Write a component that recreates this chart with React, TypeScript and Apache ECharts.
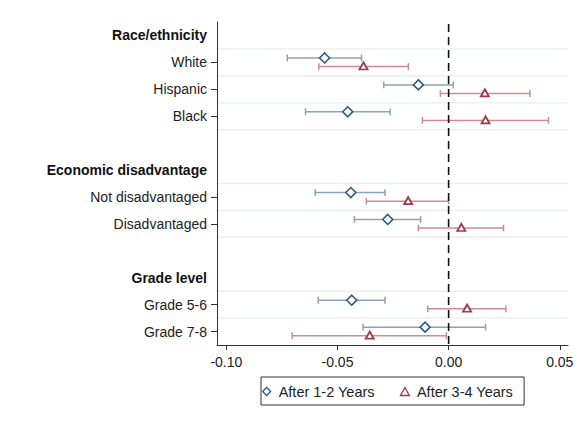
import React, { useEffect, useRef } from "react";
import * as echarts from "echarts";

const categories = [
  "Race/ethnicity",
  "White",
  "Hispanic",
  "Black",
  " ",
  "Economic disadvantage",
  "Not disadvantaged",
  "Disadvantaged",
  "  ",
  "Grade level",
  "Grade 5-6",
  "Grade 7-8",
];
const headerRows = [0, 5, 9];
const dataRows = [1, 2, 3, 6, 7, 10, 11];
const gridLineRows = [1, 2, 3, 4, 6, 7, 8, 10, 11];

const est12 = [-0.0558, -0.0136, -0.0454, -0.044, -0.0274, -0.0436, -0.0106];
const lo12 = [-0.0726, -0.0292, -0.0644, -0.06, -0.0424, -0.0587, -0.0385];
const hi12 = [-0.0392, 0.0021, -0.0263, -0.0286, -0.0126, -0.0286, 0.0166];

const est34 = [-0.0383, 0.0163, 0.0166, -0.0182, 0.0057, 0.0083, -0.0355];
const lo34 = [-0.0584, -0.0037, -0.0118, -0.037, -0.0136, -0.0094, -0.0704];
const hi34 = [-0.0181, 0.0366, 0.0449, 0.0, 0.0247, 0.0258, -0.001];

const xTicks = [-0.1, -0.05, 0, 0.05];

const FONT = "'Liberation Sans', Arial, sans-serif";
const BLUE = "#2b5b84";
const BLUE_BAR = "#8aa3ba";
const RED = "#9e3a48";
const RED_BAR = "#cc8c93";

function errorBarSeries(name: string, lo: number[], hi: number[], color: string, offset: number) {
  return {
    type: "custom",
    name,
    z: 2,
    silent: true,
    data: dataRows.map((r, i) => [lo[i], hi[i], r]),
    encode: { x: [0, 1], y: 2 },
    renderItem: (params: any, api: any) => {
      const row = api.value(2);
      const p1 = api.coord([api.value(0), row]);
      const p2 = api.coord([api.value(1), row]);
      const y = p1[1] + offset;
      const cap = 3.4;
      const style = { stroke: color, lineWidth: 1.5 };
      return {
        type: "group",
        children: [
          { type: "line", shape: { x1: p1[0], y1: y, x2: p2[0], y2: y }, style },
          { type: "line", shape: { x1: p1[0], y1: y - cap, x2: p1[0], y2: y + cap }, style },
          { type: "line", shape: { x1: p2[0], y1: y - cap, x2: p2[0], y2: y + cap }, style },
        ],
      };
    },
  };
}

export default function App() {
  const ref = useRef<HTMLDivElement>(null);
  useEffect(() => {
    if (!ref.current) return;
    const chart = echarts.init(ref.current, undefined, { renderer: "svg" });
    const option: any = {
      animation: false,
      backgroundColor: "#ffffff",
      textStyle: { fontFamily: FONT },
      grid: { left: 217, right: 15, top: 22, bottom: 77, containLabel: false },
      legend: {
        data: [
          { name: "After 1-2 Years", icon: "path://M0,-1L1,0L0,1L-1,0Z", itemStyle: { borderWidth: 1.3 } },
          { name: "After 3-4 Years", icon: "path://M0,-0.9L1,0.9L-1,0.9Z", itemStyle: { borderWidth: 1.3 } },
        ],
        symbolKeepAspect: true,
        left: 261,
        top: 377,
        orient: "horizontal",
        borderColor: "#333",
        borderWidth: 1,
        borderRadius: 0,
        padding: [7, 11, 6, 1],
        itemWidth: 14,
        itemHeight: 8,
        itemGap: 25,
        textStyle: { fontSize: 14.5, color: "#222", fontFamily: FONT },
      },
      xAxis: {
        type: "value",
        min: -0.1042,
        max: 0.0537,
        axisLine: { show: true, onZero: false, lineStyle: { color: "#333", width: 1 } },
        axisTick: { show: true, length: 5, lineStyle: { color: "#333" }, customValues: xTicks },
        axisLabel: {
          customValues: xTicks,
          fontSize: 14,
          color: "#222",
          margin: 10,
          fontFamily: FONT,
          formatter: (v: number) => v.toFixed(2),
        },
        splitLine: { show: false },
      },
      yAxis: {
        type: "category",
        data: categories,
        inverse: true,
        boundaryGap: true,
        axisLine: { show: true, onZero: false, lineStyle: { color: "#333", width: 1 } },
        axisTick: {
          show: true,
          alignWithLabel: true,
          length: 6,
          lineStyle: { color: "#333" },
          interval: (index: number) => dataRows.includes(index),
        },
        axisLabel: {
          interval: 0,
          fontSize: 14,
          color: "#222",
          margin: 10,
          fontFamily: FONT,
          formatter: (v: string, i: number) => (headerRows.includes(i) ? `{b|${v}}` : v),
          rich: { b: { fontWeight: "bold", fontSize: 14, color: "#111", fontFamily: FONT } },
        },
        splitLine: { show: false },
      },
      series: [
        {
          type: "custom",
          name: "gridlines",
          z: 1,
          silent: true,
          data: gridLineRows.map((r) => [0, r]),
          encode: { x: 0, y: 1 },
          renderItem: (params: any, api: any) => {
            const c = api.coord([0, api.value(1)]);
            const h = api.size([0, 1])[1];
            const y = c[1] - h / 2;
            const cs = params.coordSys;
            return {
              type: "line",
              shape: { x1: cs.x + 1, y1: y, x2: cs.x + cs.width, y2: y },
              style: { stroke: "#eaf0f4", lineWidth: 1.5 },
            };
          },
        },
        {
          type: "custom",
          name: "zeroline",
          z: 3,
          silent: true,
          data: [[0, 0]],
          encode: { x: 0, y: 1 },
          renderItem: (params: any, api: any) => {
            const cs = params.coordSys;
            const x = api.coord([api.value(0), 0])[0];
            return {
              type: "line",
              shape: { x1: x, y1: cs.y + 2, x2: x, y2: cs.y + cs.height },
              style: { stroke: "#111", lineWidth: 1.6, lineDash: [8, 5] },
            };
          },
        },
        errorBarSeries("ci12", lo12, hi12, BLUE_BAR, -4.4),
        errorBarSeries("ci34", lo34, hi34, RED_BAR, 4.2),
        {
          type: "scatter",
          name: "After 1-2 Years",
          z: 5,
          symbol: "diamond",
          symbolSize: [10, 10],
          symbolOffset: [0, -4.4],
          itemStyle: { color: "#ffffff", borderColor: BLUE, borderWidth: 1.6, opacity: 1 },
          data: dataRows.map((r, i) => [est12[i], r]),
        },
        {
          type: "scatter",
          name: "After 3-4 Years",
          z: 5,
          symbol: "triangle",
          symbolSize: [8, 7],
          symbolOffset: [0, 3.6],
          itemStyle: { color: "#ffffff", borderColor: RED, borderWidth: 1.8, opacity: 1 },
          data: dataRows.map((r, i) => [est34[i], r]),
        },
      ],
    };
    chart.setOption(option);
    return () => chart.dispose();
  }, []);
  return (
    <div
      ref={ref}
      style={{ position: "fixed", left: 0, top: 0, width: 583, height: 422, background: "#fff" }}
    />
  );
}
